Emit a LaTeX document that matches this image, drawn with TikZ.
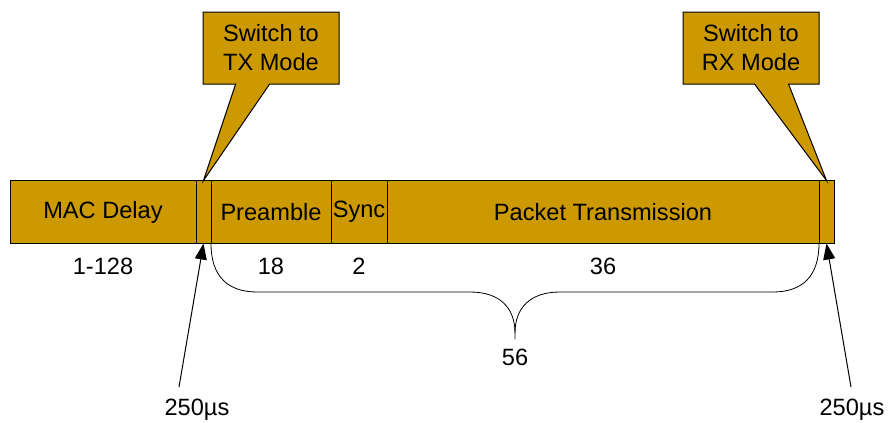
\documentclass[tikz,border=0pt]{standalone}
\usepackage{fontspec}
\setmainfont{Liberation Sans}
\usetikzlibrary{positioning,shapes.callouts,arrows.meta}
\definecolor{gold}{RGB}{204,153,0}
\tikzset{
  seg/.style={draw,fill=gold,minimum height=31.5pt,inner sep=0pt,outer sep=0pt,line width=0.5pt},
  bubble/.style={rectangle callout,draw,fill=gold,align=center,minimum width=68pt,minimum height=36pt,
    inner sep=0pt,callout pointer width=17pt,line width=0.5pt},
  lbl/.style={inner sep=0pt},
  ptr/.style={-{Triangle[length=8pt,width=6pt]},line width=0.5pt}
}
\begin{document}
\begin{tikzpicture}[x=0.5pt,y=-0.5pt,font=\fontsize{11.8}{14.5}\selectfont]
\useasboundingbox (0,0) rectangle (889,423);
\node[seg,minimum width=93pt,anchor=west] (mac) at (10,212) {MAC Delay};
\node[seg,minimum width=7.5pt,right=0pt of mac] (gapa) {};
\node[seg,minimum width=60pt,right=0pt of gapa] (pre) {Preamble};
\node[seg,minimum width=28pt,right=0pt of pre] (sync) {Sync};
\node[seg,minimum width=216pt,right=0pt of sync] (pkt) {Packet Transmission};
\node[seg,minimum width=7.5pt,right=0pt of pkt] (gapb) {};
\node[bubble,callout absolute pointer={(gapa.north)}] (tx) at (271,48) {Switch to\\TX Mode};
\node[bubble,callout absolute pointer={(gapb.north)}] (rx) at (751,48) {Switch to\\RX Mode};
\node[lbl,below=7pt of mac] (nmac) {1-128};
\node[lbl,below=7pt of pre] (npre) {18};
\node[lbl,below=7pt of sync] (nsync) {2};
\node[lbl,below=7pt of pkt] (npkt) {36};
\coordinate (tip) at (515,339);
\draw (gapa.south east) .. controls +(0,32) and +(-30,0) .. (257,292) -- (470,292)
  .. controls +(30,0) and +(0,-25) .. (515,333) -- (tip);
\draw (gapb.south west) .. controls +(0,32) and +(30,0) .. (773,292) -- (560,292)
  .. controls +(-30,0) and +(0,-25) .. (515,333);
\node[lbl,below=5pt of tip] (total) {56};
\node[lbl] (ta) at (197,410) {250µs};
\node[lbl] (tb) at (852,410) {250µs};
\coordinate (fa) at (179,387);
\coordinate (fb) at (851,387);
\draw[ptr] (fa) -- (gapa.south);
\draw[ptr] (fb) -- (gapb.south);
\end{tikzpicture}
\end{document}
